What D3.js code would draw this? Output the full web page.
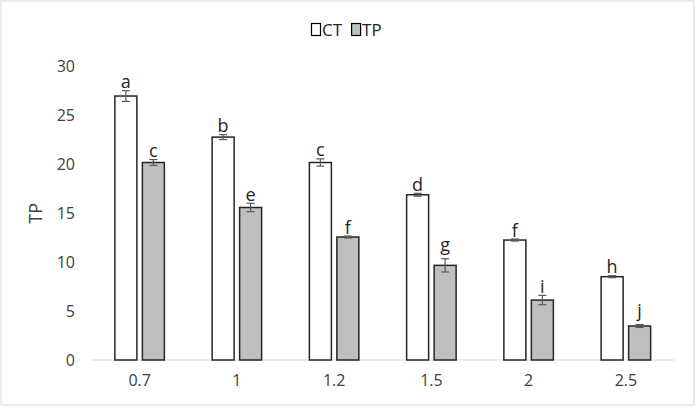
<!DOCTYPE html>
<html><head><meta charset="utf-8">
<script src="https://cdn.jsdelivr.net/npm/d3@7"></script>
<style>html,body{margin:0;padding:0;background:#fff;}svg{display:block;font-family:"Open Sans",sans-serif;}</style>
</head><body>
<svg id="c" width="696" height="407"></svg>
<script>
const categories = ["0.7","1","1.2","1.5","2","2.5"];
const seriesNames = ["CT","TP"];
const ctValues = [27.0, 22.8, 20.2, 16.9, 12.27, 8.52];
const ctErrors = [0.55, 0.25, 0.37, 0.15, 0.1, 0.1];
const ctLetters = ["a","b","c","d","f","h"];
const tpValues = [20.2, 15.6, 12.58, 9.68, 6.13, 3.48];
const tpErrors = [0.3, 0.43, 0.1, 0.68, 0.48, 0.15];
const tpLetters = ["c","e","f","g","i","j"];
const yTicks = [0,5,10,15,20,25,30];

const FONT = "'Open Sans', sans-serif";
const svg = d3.select("#c");
svg.append("rect").attr("x",1).attr("y",1).attr("width",693).attr("height",404)
  .attr("fill","#fff").attr("stroke","#d9d9d9").attr("stroke-width",1);

const x0 = d3.scaleBand().domain(categories).range([91,674.5]).paddingInner(0).paddingOuter(0);
const x1 = d3.scaleBand().domain(seriesNames).range([-24.75,24.75]).paddingInner(0.2);
const y = d3.scaleLinear().domain([0,30]).range([360,66.7]);

// y axis labels
const yAxis = d3.axisLeft(y).tickValues(yTicks).tickSize(0).tickPadding(0);
const yg = svg.append("g").attr("transform","translate(75,0)").call(yAxis);
yg.select(".domain").remove();
yg.selectAll("text").attr("font-size",16).attr("fill","#404040").attr("font-family",FONT);

// baseline
svg.append("line").attr("x1",91).attr("x2",674.5).attr("y1",y(0)).attr("y2",y(0))
  .attr("stroke","#d9d9d9").attr("stroke-width",1);

// x axis labels
const xAxis = d3.axisBottom(x0).tickSize(0).tickPadding(15);
const xg = svg.append("g").attr("transform",`translate(0,${y(0)})`).call(xAxis);
xg.select(".domain").remove();
xg.selectAll("text").attr("font-size",16).attr("fill","#404040").attr("font-family",FONT);

// y title
svg.append("text").attr("transform",`translate(42,${(y(0)+y(30))/2}) rotate(-90)`)
  .attr("text-anchor","middle").attr("font-size",18).attr("fill","#404040").attr("font-family",FONT).text("TP");

const series = [
  {name:"CT", vals:ctValues, errs:ctErrors, letters:ctLetters, fill:"#ffffff"},
  {name:"TP", vals:tpValues, errs:tpErrors, letters:tpLetters, fill:"#bfbfbf"}
];

series.forEach(s => {
  const g = svg.append("g");
  categories.forEach((c,i) => {
    const cx = x0(c) + x0.bandwidth()/2 + x1(s.name);
    const w = x1.bandwidth();
    g.append("rect").attr("x",cx).attr("y",y(s.vals[i])).attr("width",w)
      .attr("height",y(0)-y(s.vals[i])).attr("fill",s.fill).attr("stroke","#262626").attr("stroke-width",1.5);
    const mx = cx + w/2;
    const top = y(s.vals[i]+s.errs[i]), bot = y(s.vals[i]-s.errs[i]);
    g.append("line").attr("x1",mx).attr("x2",mx).attr("y1",top).attr("y2",bot).attr("stroke","#595959").attr("stroke-width",1.2);
    [top,bot].forEach(yy => g.append("line").attr("x1",mx-4).attr("x2",mx+4).attr("y1",yy).attr("y2",yy).attr("stroke","#595959").attr("stroke-width",1.2));
    const desc = /[gjpqy]/.test(s.letters[i]) ? 5 : 0;
    g.append("text").attr("x",mx).attr("y",top-2.5-desc).attr("text-anchor","middle")
      .attr("font-size",18).attr("fill","#262626").attr("font-family",FONT).text(s.letters[i]);
  });
});

// legend
const lg = svg.append("g").attr("transform","translate(311,20)");
let lx = 0;
series.forEach(s => {
  lg.append("rect").attr("x",lx+0.5).attr("y",3.5).attr("width",9).attr("height",12)
    .attr("fill",s.fill).attr("stroke","#000").attr("stroke-width",1.2);
  const t = lg.append("text").attr("x",lx+11).attr("y",15.5).attr("font-size",17).attr("fill","#262626").attr("font-family",FONT).text(s.name);
  lx += 11 + t.node().getComputedTextLength() + 9;
});
</script>
</body></html>
